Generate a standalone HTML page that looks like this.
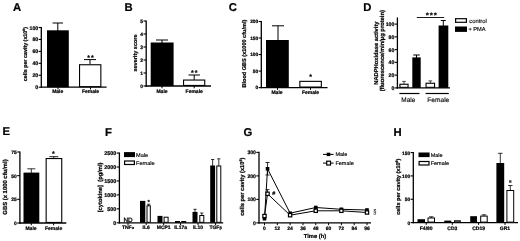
<!DOCTYPE html>
<html><head><meta charset="utf-8"><title>Figure</title>
<style>
html,body{margin:0;padding:0;background:#fff;}
svg{display:block;font-family:"Liberation Sans",sans-serif;text-rendering:geometricPrecision;}
</style></head><body>
<svg width="520" height="241" viewBox="0 0 520 241">
<defs><filter id="b" x="0" y="0" width="520" height="241" filterUnits="userSpaceOnUse"><feGaussianBlur stdDeviation="0.45"/></filter></defs>
<rect width="520" height="241" fill="#fff"/>
<g filter="url(#b)">
<text x="17.1" y="10.7" font-size="11.3" text-anchor="middle" font-weight="bold" stroke="#000" stroke-width="0.22">A</text>
<line x1="41.3" y1="26.95" x2="41.3" y2="87.85" stroke="#000" stroke-width="1.3"/>
<line x1="38.6" y1="87.2" x2="41.3" y2="87.2" stroke="#000" stroke-width="1.1"/>
<text x="38.2" y="89.21" font-size="5.2" text-anchor="end" font-weight="bold" stroke="#000" stroke-width="0.22">0</text>
<line x1="38.6" y1="75.26" x2="41.3" y2="75.26" stroke="#000" stroke-width="1.1"/>
<text x="38.2" y="77.27" font-size="5.2" text-anchor="end" font-weight="bold" stroke="#000" stroke-width="0.22">20</text>
<line x1="38.6" y1="63.32" x2="41.3" y2="63.32" stroke="#000" stroke-width="1.1"/>
<text x="38.2" y="65.33" font-size="5.2" text-anchor="end" font-weight="bold" stroke="#000" stroke-width="0.22">40</text>
<line x1="38.6" y1="51.38" x2="41.3" y2="51.38" stroke="#000" stroke-width="1.1"/>
<text x="38.2" y="53.39" font-size="5.2" text-anchor="end" font-weight="bold" stroke="#000" stroke-width="0.22">60</text>
<line x1="38.6" y1="39.44" x2="41.3" y2="39.44" stroke="#000" stroke-width="1.1"/>
<text x="38.2" y="41.45" font-size="5.2" text-anchor="end" font-weight="bold" stroke="#000" stroke-width="0.22">80</text>
<line x1="38.6" y1="27.5" x2="41.3" y2="27.5" stroke="#000" stroke-width="1.1"/>
<text x="38.2" y="29.51" font-size="5.2" text-anchor="end" font-weight="bold" stroke="#000" stroke-width="0.22">100</text>
<line x1="40.9" y1="87.2" x2="106.6" y2="87.2" stroke="#000" stroke-width="1.3"/>
<line x1="57.8" y1="23" x2="57.8" y2="31" stroke="#000" stroke-width="1.0"/>
<line x1="52.55" y1="23" x2="63.05" y2="23" stroke="#000" stroke-width="1.0"/>
<rect x="47" y="30.3" width="21.8" height="56.9" fill="#000"/>
<line x1="90" y1="59.6" x2="90" y2="64.5" stroke="#000" stroke-width="1.0"/>
<line x1="84.0" y1="59.6" x2="96.0" y2="59.6" stroke="#000" stroke-width="1.0"/>
<rect x="79.55" y="64.75" width="21.3" height="21.9" fill="#fff" stroke="#000" stroke-width="1.1"/>
<text x="91.1" y="60.19" font-size="7" text-anchor="middle" font-weight="bold" stroke="#000" stroke-width="0.15" letter-spacing="1.0">**</text>
<line x1="58" y1="87.2" x2="58" y2="89.5" stroke="#000" stroke-width="1.0"/>
<line x1="90.5" y1="87.2" x2="90.5" y2="89.5" stroke="#000" stroke-width="1.0"/>
<text x="57.7" y="93.0" font-size="5.0" text-anchor="middle" font-weight="bold" stroke="#000" stroke-width="0.22">Male</text>
<text x="90.5" y="93.0" font-size="5.0" text-anchor="middle" font-weight="bold" stroke="#000" stroke-width="0.22">Female</text>
<text x="26.9" y="54.1" font-size="5.35" text-anchor="middle" font-weight="bold" stroke="#000" stroke-width="0.22" transform="rotate(-90 26.9 54.1)">cells per cavity (x10<tspan font-size="3.42" dy="-1.77">6</tspan><tspan dy="1.77">)</tspan></text>
<text x="128.6" y="10.7" font-size="11.3" text-anchor="middle" font-weight="bold" stroke="#000" stroke-width="0.22">B</text>
<line x1="146.2" y1="20.45" x2="146.2" y2="86.65" stroke="#000" stroke-width="1.3"/>
<line x1="143.5" y1="86" x2="146.2" y2="86" stroke="#000" stroke-width="1.1"/>
<text x="143.1" y="87.9" font-size="4.9" text-anchor="end" font-weight="bold" stroke="#000" stroke-width="0.22">0</text>
<line x1="143.5" y1="73" x2="146.2" y2="73" stroke="#000" stroke-width="1.1"/>
<text x="143.1" y="74.9" font-size="4.9" text-anchor="end" font-weight="bold" stroke="#000" stroke-width="0.22">1</text>
<line x1="143.5" y1="60" x2="146.2" y2="60" stroke="#000" stroke-width="1.1"/>
<text x="143.1" y="61.9" font-size="4.9" text-anchor="end" font-weight="bold" stroke="#000" stroke-width="0.22">2</text>
<line x1="143.5" y1="47" x2="146.2" y2="47" stroke="#000" stroke-width="1.1"/>
<text x="143.1" y="48.9" font-size="4.9" text-anchor="end" font-weight="bold" stroke="#000" stroke-width="0.22">3</text>
<line x1="143.5" y1="34" x2="146.2" y2="34" stroke="#000" stroke-width="1.1"/>
<text x="143.1" y="35.9" font-size="4.9" text-anchor="end" font-weight="bold" stroke="#000" stroke-width="0.22">4</text>
<line x1="143.5" y1="21" x2="146.2" y2="21" stroke="#000" stroke-width="1.1"/>
<text x="143.1" y="22.9" font-size="4.9" text-anchor="end" font-weight="bold" stroke="#000" stroke-width="0.22">5</text>
<line x1="145.6" y1="86" x2="211" y2="86" stroke="#000" stroke-width="1.3"/>
<line x1="162" y1="40" x2="162" y2="43" stroke="#000" stroke-width="1.0"/>
<line x1="156.0" y1="40" x2="168.0" y2="40" stroke="#000" stroke-width="1.0"/>
<rect x="150.7" y="42.5" width="22.9" height="43.5" fill="#000"/>
<line x1="194.2" y1="75" x2="194.2" y2="80" stroke="#000" stroke-width="1.0"/>
<line x1="188.45" y1="75" x2="199.95" y2="75" stroke="#000" stroke-width="1.0"/>
<rect x="183.55" y="80.05" width="21.2" height="5.4" fill="#fff" stroke="#000" stroke-width="1.1"/>
<text x="194.7" y="75.29" font-size="7" text-anchor="middle" font-weight="bold" stroke="#000" stroke-width="0.15" letter-spacing="1.0">**</text>
<line x1="162" y1="86" x2="162" y2="88.3" stroke="#000" stroke-width="1.0"/>
<line x1="194.2" y1="86" x2="194.2" y2="88.3" stroke="#000" stroke-width="1.0"/>
<text x="162" y="92.6" font-size="5.0" text-anchor="middle" font-weight="bold" stroke="#000" stroke-width="0.22">Male</text>
<text x="194.2" y="92.6" font-size="5.0" text-anchor="middle" font-weight="bold" stroke="#000" stroke-width="0.22">Female</text>
<text x="137.3" y="53" font-size="5.5" text-anchor="middle" font-weight="bold" stroke="#000" stroke-width="0.22" transform="rotate(-90 137.3 53)">severity score</text>
<text x="232.8" y="10.7" font-size="11.3" text-anchor="middle" font-weight="bold" stroke="#000" stroke-width="0.22">C</text>
<line x1="261.3" y1="20.95" x2="261.3" y2="88.25" stroke="#000" stroke-width="1.3"/>
<line x1="258.6" y1="87.6" x2="261.3" y2="87.6" stroke="#000" stroke-width="1.1"/>
<text x="258.2" y="89.47" font-size="4.8" text-anchor="end" font-weight="bold" stroke="#000" stroke-width="0.22">0</text>
<line x1="258.6" y1="71.07" x2="261.3" y2="71.07" stroke="#000" stroke-width="1.1"/>
<text x="258.2" y="72.94" font-size="4.8" text-anchor="end" font-weight="bold" stroke="#000" stroke-width="0.22">50</text>
<line x1="258.6" y1="54.55" x2="261.3" y2="54.55" stroke="#000" stroke-width="1.1"/>
<text x="258.2" y="56.42" font-size="4.8" text-anchor="end" font-weight="bold" stroke="#000" stroke-width="0.22">100</text>
<line x1="258.6" y1="38.02" x2="261.3" y2="38.02" stroke="#000" stroke-width="1.1"/>
<text x="258.2" y="39.89" font-size="4.8" text-anchor="end" font-weight="bold" stroke="#000" stroke-width="0.22">150</text>
<line x1="258.6" y1="21.5" x2="261.3" y2="21.5" stroke="#000" stroke-width="1.1"/>
<text x="258.2" y="23.37" font-size="4.8" text-anchor="end" font-weight="bold" stroke="#000" stroke-width="0.22">200</text>
<line x1="260.7" y1="87.6" x2="327.5" y2="87.6" stroke="#000" stroke-width="1.3"/>
<line x1="278" y1="25.8" x2="278" y2="41" stroke="#000" stroke-width="1.0"/>
<line x1="272.0" y1="25.8" x2="284.0" y2="25.8" stroke="#000" stroke-width="1.0"/>
<rect x="266" y="40" width="22.8" height="47.6" fill="#000"/>
<rect x="299.85" y="81.35" width="21.5" height="5.7" fill="#fff" stroke="#000" stroke-width="1.1"/>
<text x="311.0" y="79.09" font-size="7" text-anchor="middle" font-weight="bold" stroke="#000" stroke-width="0.15" letter-spacing="1.0">*</text>
<line x1="277.5" y1="87.6" x2="277.5" y2="89.9" stroke="#000" stroke-width="1.0"/>
<line x1="310.5" y1="87.6" x2="310.5" y2="89.9" stroke="#000" stroke-width="1.0"/>
<text x="277.0" y="94.2" font-size="5.0" text-anchor="middle" font-weight="bold" stroke="#000" stroke-width="0.22">Male</text>
<text x="310.5" y="94.2" font-size="5.0" text-anchor="middle" font-weight="bold" stroke="#000" stroke-width="0.22">Female</text>
<text x="246.2" y="53.6" font-size="5.55" text-anchor="middle" font-weight="bold" stroke="#000" stroke-width="0.22" transform="rotate(-90 246.2 53.6)">Blood GBS (x1000 cfu/ml)</text>
<text x="367.4" y="10.7" font-size="11.3" text-anchor="middle" font-weight="bold" stroke="#000" stroke-width="0.22">D</text>
<line x1="397.4" y1="17.45" x2="397.4" y2="88.55" stroke="#000" stroke-width="1.3"/>
<line x1="394.7" y1="87.9" x2="397.4" y2="87.9" stroke="#000" stroke-width="1.1"/>
<text x="394.3" y="89.91" font-size="5.2" text-anchor="end" font-weight="bold" stroke="#000" stroke-width="0.22">0</text>
<line x1="394.7" y1="75.14" x2="397.4" y2="75.14" stroke="#000" stroke-width="1.1"/>
<text x="394.3" y="77.15" font-size="5.2" text-anchor="end" font-weight="bold" stroke="#000" stroke-width="0.22">20</text>
<line x1="394.7" y1="62.38" x2="397.4" y2="62.38" stroke="#000" stroke-width="1.1"/>
<text x="394.3" y="64.39" font-size="5.2" text-anchor="end" font-weight="bold" stroke="#000" stroke-width="0.22">40</text>
<line x1="394.7" y1="49.62" x2="397.4" y2="49.62" stroke="#000" stroke-width="1.1"/>
<text x="394.3" y="51.63" font-size="5.2" text-anchor="end" font-weight="bold" stroke="#000" stroke-width="0.22">60</text>
<line x1="394.7" y1="36.86" x2="397.4" y2="36.86" stroke="#000" stroke-width="1.1"/>
<text x="394.3" y="38.87" font-size="5.2" text-anchor="end" font-weight="bold" stroke="#000" stroke-width="0.22">80</text>
<line x1="394.7" y1="24.1" x2="397.4" y2="24.1" stroke="#000" stroke-width="1.1"/>
<text x="394.3" y="26.11" font-size="5.2" text-anchor="end" font-weight="bold" stroke="#000" stroke-width="0.22">100</text>
<line x1="396.8" y1="87.9" x2="450" y2="87.9" stroke="#000" stroke-width="1.3"/>
<line x1="404" y1="81.4" x2="404" y2="84" stroke="#000" stroke-width="0.7"/>
<line x1="402.2" y1="81.4" x2="405.8" y2="81.4" stroke="#000" stroke-width="0.7"/>
<rect x="399.95" y="84.25" width="8.1" height="3.1" fill="#fff" stroke="#000" stroke-width="1.1"/>
<line x1="416.5" y1="55" x2="416.5" y2="58" stroke="#000" stroke-width="1.0"/>
<line x1="413.25" y1="55" x2="419.75" y2="55" stroke="#000" stroke-width="1.0"/>
<rect x="412.3" y="57.4" width="8.4" height="30.5" fill="#000"/>
<line x1="430.3" y1="80.9" x2="430.3" y2="83" stroke="#000" stroke-width="0.7"/>
<line x1="428.5" y1="80.9" x2="432.1" y2="80.9" stroke="#000" stroke-width="0.7"/>
<rect x="426.05" y="83.25" width="8.5" height="4.1" fill="#fff" stroke="#000" stroke-width="1.1"/>
<line x1="443.3" y1="20.5" x2="443.3" y2="26" stroke="#000" stroke-width="1.0"/>
<line x1="440.8" y1="20.5" x2="445.8" y2="20.5" stroke="#000" stroke-width="1.0"/>
<rect x="438.6" y="25.5" width="9.7" height="62.4" fill="#000"/>
<line x1="416.8" y1="17.5" x2="444.2" y2="17.5" stroke="#000" stroke-width="0.9"/>
<text x="431.85" y="18.3" font-size="8" text-anchor="middle" font-weight="bold" stroke="#000" stroke-width="0.15" letter-spacing="0.9">***</text>
<line x1="399.4" y1="93.5" x2="419.5" y2="93.5" stroke="#000" stroke-width="1.2"/>
<line x1="425.6" y1="93.5" x2="448.8" y2="93.5" stroke="#000" stroke-width="1.2"/>
<text x="408.3" y="101.8" font-size="6.4" text-anchor="middle" stroke="#000" stroke-width="0.14">Male</text>
<text x="438.3" y="101.8" font-size="6.6" text-anchor="middle" stroke="#000" stroke-width="0.14">Female</text>
<rect x="455.6" y="18.7" width="10.8" height="3.6" fill="#fff" stroke="#000" stroke-width="1.2"/>
<rect x="455" y="26.5" width="12" height="5.4" fill="#000"/>
<text x="469.3" y="22.5" font-size="5.8" text-anchor="start" stroke="#000" stroke-width="0.14">control</text>
<text x="468.4" y="30.7" font-size="5.7" text-anchor="start" stroke="#000" stroke-width="0.14">+ PMA</text>
<text x="377.6" y="53.1" font-size="5.75" text-anchor="middle" font-weight="bold" stroke="#000" stroke-width="0.22" transform="rotate(-90 377.6 53.1)">NADPHoxidase activity</text>
<text x="384.5" y="50.7" font-size="5.8" text-anchor="middle" font-weight="bold" stroke="#000" stroke-width="0.22" transform="rotate(-90 384.5 50.7)">(fluorescence/min/µg protein)</text>
<text x="6.3" y="135.4" font-size="11.3" text-anchor="middle" font-weight="bold" stroke="#000" stroke-width="0.22">E</text>
<line x1="19.9" y1="151.45" x2="19.9" y2="223.65" stroke="#000" stroke-width="1.3"/>
<line x1="17.2" y1="223.0" x2="19.9" y2="223.0" stroke="#000" stroke-width="1.1"/>
<text x="16.8" y="224.9" font-size="4.9" text-anchor="end" font-weight="bold" stroke="#000" stroke-width="0.22">0</text>
<line x1="17.2" y1="199.32" x2="19.9" y2="199.32" stroke="#000" stroke-width="1.1"/>
<text x="16.8" y="201.23" font-size="4.9" text-anchor="end" font-weight="bold" stroke="#000" stroke-width="0.22">25</text>
<line x1="17.2" y1="175.65" x2="19.9" y2="175.65" stroke="#000" stroke-width="1.1"/>
<text x="16.8" y="177.55" font-size="4.9" text-anchor="end" font-weight="bold" stroke="#000" stroke-width="0.22">50</text>
<line x1="17.2" y1="151.98" x2="19.9" y2="151.98" stroke="#000" stroke-width="1.1"/>
<text x="16.8" y="153.88" font-size="4.9" text-anchor="end" font-weight="bold" stroke="#000" stroke-width="0.22">75</text>
<line x1="19.3" y1="223" x2="66.3" y2="223" stroke="#000" stroke-width="1.3"/>
<line x1="31.3" y1="168.8" x2="31.3" y2="173" stroke="#000" stroke-width="0.8"/>
<line x1="27.3" y1="168.8" x2="35.3" y2="168.8" stroke="#000" stroke-width="0.8"/>
<rect x="23.5" y="172.6" width="15.8" height="50.4" fill="#000"/>
<line x1="53.8" y1="156.7" x2="53.8" y2="158.5" stroke="#000" stroke-width="0.9"/>
<line x1="49.3" y1="156.7" x2="58.3" y2="156.7" stroke="#000" stroke-width="0.9"/>
<rect x="46.15" y="158.55" width="15.6" height="63.9" fill="#fff" stroke="#000" stroke-width="1.1"/>
<text x="53.8" y="155.79" font-size="7" text-anchor="middle" font-weight="bold" stroke="#000" stroke-width="0.15" letter-spacing="1.0">*</text>
<line x1="31.3" y1="223" x2="31.3" y2="225.3" stroke="#000" stroke-width="1.0"/>
<line x1="53.6" y1="223" x2="53.6" y2="225.3" stroke="#000" stroke-width="1.0"/>
<text x="31.0" y="230.1" font-size="5.0" text-anchor="middle" font-weight="bold" stroke="#000" stroke-width="0.22">Male</text>
<text x="53.6" y="230.1" font-size="5.0" text-anchor="middle" font-weight="bold" stroke="#000" stroke-width="0.22">Female</text>
<text x="7.0" y="187" font-size="5.9" text-anchor="middle" font-weight="bold" stroke="#000" stroke-width="0.22" transform="rotate(-90 7.0 187)">GBS (x 1000 cfu/ml)</text>
<text x="108.5" y="135.6" font-size="11.3" text-anchor="middle" font-weight="bold" stroke="#000" stroke-width="0.22">F</text>
<line x1="119.4" y1="152.5" x2="119.4" y2="223.45" stroke="#000" stroke-width="1.3"/>
<line x1="116.7" y1="222.8" x2="119.4" y2="222.8" stroke="#000" stroke-width="1.1"/>
<text x="116.3" y="224.88" font-size="5.4" text-anchor="end" font-weight="bold" stroke="#000" stroke-width="0.22">0</text>
<line x1="116.7" y1="208.85" x2="119.4" y2="208.85" stroke="#000" stroke-width="1.1"/>
<text x="116.3" y="210.93" font-size="5.4" text-anchor="end" font-weight="bold" stroke="#000" stroke-width="0.22">500</text>
<line x1="116.7" y1="194.9" x2="119.4" y2="194.9" stroke="#000" stroke-width="1.1"/>
<text x="116.3" y="196.98" font-size="5.4" text-anchor="end" font-weight="bold" stroke="#000" stroke-width="0.22">1000</text>
<line x1="116.7" y1="180.95" x2="119.4" y2="180.95" stroke="#000" stroke-width="1.1"/>
<text x="116.3" y="183.03" font-size="5.4" text-anchor="end" font-weight="bold" stroke="#000" stroke-width="0.22">1500</text>
<line x1="116.7" y1="167.0" x2="119.4" y2="167.0" stroke="#000" stroke-width="1.1"/>
<text x="116.3" y="169.08" font-size="5.4" text-anchor="end" font-weight="bold" stroke="#000" stroke-width="0.22">2000</text>
<line x1="116.7" y1="153.05" x2="119.4" y2="153.05" stroke="#000" stroke-width="1.1"/>
<text x="116.3" y="155.13" font-size="5.4" text-anchor="end" font-weight="bold" stroke="#000" stroke-width="0.22">2500</text>
<line x1="118.8" y1="222.8" x2="223.2" y2="222.8" stroke="#000" stroke-width="1.3"/>
<rect x="124" y="152.1" width="11" height="5.0" fill="#000"/>
<rect x="124.6" y="161.0" width="9.8" height="3.5" fill="#fff" stroke="#000" stroke-width="1.2"/>
<text x="136" y="156.5" font-size="5.6" text-anchor="start" stroke="#000" stroke-width="0.14">Male</text>
<text x="136" y="164.8" font-size="5.6" text-anchor="start" stroke="#000" stroke-width="0.14">Female</text>
<text x="128" y="222.4" font-size="6.3" text-anchor="middle" stroke="#000" stroke-width="0.3">ND</text>
<rect x="140.0" y="200.9" width="5.3" height="21.9" fill="#000"/>
<line x1="148.65" y1="204.2" x2="148.65" y2="206.3" stroke="#000" stroke-width="0.8"/>
<line x1="147.05" y1="204.2" x2="150.25" y2="204.2" stroke="#000" stroke-width="0.8"/>
<rect x="147.0" y="205.8" width="3.3" height="16.5" fill="#fff" stroke="#000" stroke-width="1.0"/>
<text x="149.1" y="203.58" font-size="6" text-anchor="middle" font-weight="bold" stroke="#000" stroke-width="0.15" letter-spacing="1.0">*</text>
<rect x="157.5" y="215.9" width="5.0" height="6.9" fill="#000"/>
<rect x="164.1" y="217.2" width="4.0" height="5.1" fill="#fff" stroke="#000" stroke-width="1.0"/>
<rect x="175" y="221.0" width="5" height="1.8" fill="#000"/>
<rect x="181.7" y="221.5" width="4.0" height="0.8" fill="#fff" stroke="#000" stroke-width="1.0"/>
<line x1="195.0" y1="209.3" x2="195.0" y2="212.9" stroke="#000" stroke-width="0.8"/>
<line x1="193.4" y1="209.3" x2="196.6" y2="209.3" stroke="#000" stroke-width="0.8"/>
<rect x="192.5" y="211.9" width="5.0" height="10.9" fill="#000"/>
<line x1="201.8" y1="213" x2="201.8" y2="216" stroke="#000" stroke-width="0.8"/>
<line x1="200.2" y1="213" x2="203.4" y2="213" stroke="#000" stroke-width="0.8"/>
<rect x="199.8" y="215.5" width="4.0" height="6.8" fill="#fff" stroke="#000" stroke-width="1.0"/>
<line x1="212.65" y1="159.5" x2="212.65" y2="166.5" stroke="#000" stroke-width="0.8"/>
<line x1="211.05" y1="159.5" x2="214.25" y2="159.5" stroke="#000" stroke-width="0.8"/>
<rect x="210.2" y="165.5" width="4.9" height="57.3" fill="#000"/>
<line x1="218.8" y1="158.8" x2="218.8" y2="166.5" stroke="#000" stroke-width="0.8"/>
<line x1="217.2" y1="158.8" x2="220.4" y2="158.8" stroke="#000" stroke-width="0.8"/>
<rect x="216.8" y="166.0" width="4.0" height="56.3" fill="#fff" stroke="#000" stroke-width="1.0"/>
<line x1="128" y1="222.8" x2="128" y2="225.1" stroke="#000" stroke-width="1.0"/>
<text x="128" y="229.2" font-size="5.0" text-anchor="middle" font-weight="bold" stroke="#000" stroke-width="0.22">TNF<tspan font-size="3.8">α</tspan></text>
<line x1="146.2" y1="222.8" x2="146.2" y2="225.1" stroke="#000" stroke-width="1.0"/>
<text x="146.2" y="229.2" font-size="5.0" text-anchor="middle" font-weight="bold" stroke="#000" stroke-width="0.22">IL6</text>
<line x1="163.7" y1="222.8" x2="163.7" y2="225.1" stroke="#000" stroke-width="1.0"/>
<text x="163.7" y="229.2" font-size="5.0" text-anchor="middle" font-weight="bold" stroke="#000" stroke-width="0.22">MCP1</text>
<line x1="180.6" y1="222.8" x2="180.6" y2="225.1" stroke="#000" stroke-width="1.0"/>
<text x="180.6" y="229.2" font-size="5.0" text-anchor="middle" font-weight="bold" stroke="#000" stroke-width="0.22">IL17a</text>
<line x1="198.0" y1="222.8" x2="198.0" y2="225.1" stroke="#000" stroke-width="1.0"/>
<text x="198.0" y="229.2" font-size="5.0" text-anchor="middle" font-weight="bold" stroke="#000" stroke-width="0.22">IL10</text>
<line x1="215.6" y1="222.8" x2="215.6" y2="225.1" stroke="#000" stroke-width="1.0"/>
<text x="215.6" y="229.2" font-size="5.0" text-anchor="middle" font-weight="bold" stroke="#000" stroke-width="0.22">TGF<tspan font-size="3.8">β</tspan></text>
<text x="102.3" y="187.4" font-size="5.8" text-anchor="middle" font-weight="bold" stroke="#000" stroke-width="0.22" transform="rotate(-90 102.3 187.4)">[cytokine]&#160;&#160;(pg/ml)</text>
<text x="247.8" y="135.7" font-size="11.3" text-anchor="middle" font-weight="bold" stroke="#000" stroke-width="0.22">G</text>
<line x1="259" y1="151.85" x2="259" y2="223.55" stroke="#000" stroke-width="1.3"/>
<line x1="256.3" y1="222.9" x2="259" y2="222.9" stroke="#000" stroke-width="1.1"/>
<text x="255.9" y="224.88" font-size="5.1" text-anchor="end" font-weight="bold" stroke="#000" stroke-width="0.22">0</text>
<line x1="256.3" y1="199.4" x2="259" y2="199.4" stroke="#000" stroke-width="1.1"/>
<text x="255.9" y="201.38" font-size="5.1" text-anchor="end" font-weight="bold" stroke="#000" stroke-width="0.22">100</text>
<line x1="256.3" y1="175.9" x2="259" y2="175.9" stroke="#000" stroke-width="1.1"/>
<text x="255.9" y="177.88" font-size="5.1" text-anchor="end" font-weight="bold" stroke="#000" stroke-width="0.22">200</text>
<line x1="256.3" y1="152.4" x2="259" y2="152.4" stroke="#000" stroke-width="1.1"/>
<text x="255.9" y="154.38" font-size="5.1" text-anchor="end" font-weight="bold" stroke="#000" stroke-width="0.22">300</text>
<line x1="258.4" y1="222.9" x2="371" y2="222.9" stroke="#000" stroke-width="1.3"/>
<line x1="264.5" y1="222.9" x2="264.5" y2="225.2" stroke="#000" stroke-width="1.0"/>
<text x="264.5" y="230.2" font-size="5.0" text-anchor="middle" font-weight="bold" stroke="#000" stroke-width="0.22">0</text>
<line x1="277.31" y1="222.9" x2="277.31" y2="225.2" stroke="#000" stroke-width="1.0"/>
<text x="277.31" y="230.2" font-size="5.0" text-anchor="middle" font-weight="bold" stroke="#000" stroke-width="0.22">12</text>
<line x1="290.12" y1="222.9" x2="290.12" y2="225.2" stroke="#000" stroke-width="1.0"/>
<text x="290.12" y="230.2" font-size="5.0" text-anchor="middle" font-weight="bold" stroke="#000" stroke-width="0.22">24</text>
<line x1="302.94" y1="222.9" x2="302.94" y2="225.2" stroke="#000" stroke-width="1.0"/>
<text x="302.94" y="230.2" font-size="5.0" text-anchor="middle" font-weight="bold" stroke="#000" stroke-width="0.22">36</text>
<line x1="315.75" y1="222.9" x2="315.75" y2="225.2" stroke="#000" stroke-width="1.0"/>
<text x="315.75" y="230.2" font-size="5.0" text-anchor="middle" font-weight="bold" stroke="#000" stroke-width="0.22">48</text>
<line x1="328.56" y1="222.9" x2="328.56" y2="225.2" stroke="#000" stroke-width="1.0"/>
<text x="328.56" y="230.2" font-size="5.0" text-anchor="middle" font-weight="bold" stroke="#000" stroke-width="0.22">60</text>
<line x1="341.37" y1="222.9" x2="341.37" y2="225.2" stroke="#000" stroke-width="1.0"/>
<text x="341.37" y="230.2" font-size="5.0" text-anchor="middle" font-weight="bold" stroke="#000" stroke-width="0.22">72</text>
<line x1="354.19" y1="222.9" x2="354.19" y2="225.2" stroke="#000" stroke-width="1.0"/>
<text x="354.19" y="230.2" font-size="5.0" text-anchor="middle" font-weight="bold" stroke="#000" stroke-width="0.22">84</text>
<line x1="367.0" y1="222.9" x2="367.0" y2="225.2" stroke="#000" stroke-width="1.0"/>
<text x="367.0" y="230.2" font-size="5.0" text-anchor="middle" font-weight="bold" stroke="#000" stroke-width="0.22">96</text>
<text x="315" y="238.4" font-size="5.75" text-anchor="middle" font-weight="bold" stroke="#000" stroke-width="0.22">Time (h)</text>
<line x1="267.54" y1="162.5" x2="267.54" y2="175" stroke="#000" stroke-width="0.8"/>
<line x1="265.44" y1="162.5" x2="269.64" y2="162.5" stroke="#000" stroke-width="0.8"/>
<line x1="265.44" y1="175" x2="269.64" y2="175" stroke="#000" stroke-width="0.8"/>
<line x1="267.54" y1="189.6" x2="267.54" y2="193" stroke="#000" stroke-width="0.8"/>
<line x1="265.74" y1="189.6" x2="269.34" y2="189.6" stroke="#000" stroke-width="0.8"/>
<polyline fill="none" stroke="#000" stroke-width="1.0" points="264.5,218.7 267.54,168.8 290.12,213.2 315.75,207.5 341.37,209.3 367.0,210"/>
<polyline fill="none" stroke="#000" stroke-width="1.0" points="264.5,216.0 267.54,193.8 290.12,215.2 315.75,210.8 341.37,210.8 367.0,212.5"/>
<rect x="262.7" y="216.9" width="3.6" height="3.6" fill="#000"/>
<rect x="265.74" y="167.0" width="3.6" height="3.6" fill="#000"/>
<rect x="288.32" y="211.4" width="3.6" height="3.6" fill="#000"/>
<rect x="313.95" y="205.7" width="3.6" height="3.6" fill="#000"/>
<rect x="339.57" y="207.5" width="3.6" height="3.6" fill="#000"/>
<rect x="365.2" y="208.2" width="3.6" height="3.6" fill="#000"/>
<rect x="262.85" y="214.35" width="3.3" height="3.3" fill="#fff" stroke="#000" stroke-width="1.2"/>
<rect x="265.89" y="192.15" width="3.3" height="3.3" fill="#fff" stroke="#000" stroke-width="1.2"/>
<rect x="288.47" y="213.55" width="3.3" height="3.3" fill="#fff" stroke="#000" stroke-width="1.2"/>
<rect x="314.1" y="209.15" width="3.3" height="3.3" fill="#fff" stroke="#000" stroke-width="1.2"/>
<rect x="339.72" y="209.15" width="3.3" height="3.3" fill="#fff" stroke="#000" stroke-width="1.2"/>
<rect x="365.35" y="210.85" width="3.3" height="3.3" fill="#fff" stroke="#000" stroke-width="1.2"/>
<text x="273.8" y="195" font-size="5.5" text-anchor="middle" font-weight="bold" stroke="#000" stroke-width="0.22">#</text>
<text x="374.8" y="214.2" font-size="7" text-anchor="middle" stroke="#000" stroke-width="0.05" textLength="3.2" lengthAdjust="spacingAndGlyphs">§</text>
<line x1="323" y1="154.4" x2="333.6" y2="154.4" stroke="#000" stroke-width="1.0"/>
<rect x="326.7" y="152.7" width="3.6" height="3.4" fill="#000"/>
<line x1="323" y1="163.1" x2="333.6" y2="163.1" stroke="#000" stroke-width="1.0"/>
<rect x="326.7" y="161.2" width="3.8" height="3.8" fill="#fff" stroke="#000" stroke-width="1.2"/>
<text x="335.4" y="156.3" font-size="5.5" text-anchor="start" stroke="#000" stroke-width="0.14">Male</text>
<text x="335.4" y="164.8" font-size="5.5" text-anchor="start" stroke="#000" stroke-width="0.14">Female</text>
<text x="244.3" y="186.7" font-size="5.75" text-anchor="middle" font-weight="bold" stroke="#000" stroke-width="0.22" transform="rotate(-90 244.3 186.7)">cells per cavity (x10<tspan font-size="3.68" dy="-1.9">6</tspan><tspan dy="1.9">)</tspan></text>
<text x="397.5" y="135.6" font-size="11.3" text-anchor="middle" font-weight="bold" stroke="#000" stroke-width="0.22">H</text>
<line x1="413.3" y1="152.04" x2="413.3" y2="223.25" stroke="#000" stroke-width="1.3"/>
<line x1="410.6" y1="222.6" x2="413.3" y2="222.6" stroke="#000" stroke-width="1.1"/>
<text x="410.2" y="224.5" font-size="4.9" text-anchor="end" font-weight="bold" stroke="#000" stroke-width="0.22">0</text>
<line x1="410.6" y1="199.26" x2="413.3" y2="199.26" stroke="#000" stroke-width="1.1"/>
<text x="410.2" y="201.17" font-size="4.9" text-anchor="end" font-weight="bold" stroke="#000" stroke-width="0.22">50</text>
<line x1="410.6" y1="175.93" x2="413.3" y2="175.93" stroke="#000" stroke-width="1.1"/>
<text x="410.2" y="177.83" font-size="4.9" text-anchor="end" font-weight="bold" stroke="#000" stroke-width="0.22">100</text>
<line x1="410.6" y1="152.59" x2="413.3" y2="152.59" stroke="#000" stroke-width="1.1"/>
<text x="410.2" y="154.5" font-size="4.9" text-anchor="end" font-weight="bold" stroke="#000" stroke-width="0.22">150</text>
<line x1="412.5" y1="222.6" x2="518" y2="222.6" stroke="#000" stroke-width="1.3"/>
<rect x="418.5" y="152.5" width="11.1" height="4.6" fill="#000"/>
<rect x="419.1" y="161.5" width="9.9" height="3.5" fill="#fff" stroke="#000" stroke-width="1.2"/>
<text x="430.7" y="156.6" font-size="5.5" text-anchor="start" stroke="#000" stroke-width="0.14">Male</text>
<text x="430.7" y="165.0" font-size="5.5" text-anchor="start" stroke="#000" stroke-width="0.14">Female</text>
<rect x="417.5" y="219.2" width="7.5" height="3.4" fill="#000"/>
<line x1="431.25" y1="216.8" x2="431.25" y2="218.5" stroke="#000" stroke-width="0.8"/>
<line x1="429.0" y1="216.8" x2="433.5" y2="216.8" stroke="#000" stroke-width="0.8"/>
<rect x="428.0" y="218.0" width="6.5" height="4.1" fill="#fff" stroke="#000" stroke-width="1.0"/>
<rect x="444.3" y="220.6" width="7.0" height="2.0" fill="#000"/>
<rect x="454.5" y="220.8" width="5.8" height="1.3" fill="#fff" stroke="#000" stroke-width="1.0"/>
<rect x="470.2" y="216.2" width="6.8" height="6.4" fill="#000"/>
<line x1="483.95" y1="214.8" x2="483.95" y2="216.6" stroke="#000" stroke-width="0.8"/>
<line x1="481.7" y1="214.8" x2="486.2" y2="214.8" stroke="#000" stroke-width="0.8"/>
<rect x="480.7" y="216.1" width="6.5" height="6.0" fill="#fff" stroke="#000" stroke-width="1.0"/>
<line x1="500.3" y1="153.3" x2="500.3" y2="164" stroke="#000" stroke-width="0.8"/>
<line x1="498.05" y1="153.3" x2="502.55" y2="153.3" stroke="#000" stroke-width="0.8"/>
<rect x="496.4" y="163" width="7.8" height="59.6" fill="#000"/>
<line x1="510.3" y1="185.5" x2="510.3" y2="191" stroke="#000" stroke-width="0.8"/>
<line x1="508.05" y1="185.5" x2="512.55" y2="185.5" stroke="#000" stroke-width="0.8"/>
<rect x="506.9" y="190.5" width="6.8" height="31.6" fill="#fff" stroke="#000" stroke-width="1.0"/>
<text x="510.2" y="182.8" font-size="4.5" text-anchor="middle" font-weight="bold" stroke="#000" stroke-width="0.22">¤</text>
<line x1="426.2" y1="222.6" x2="426.2" y2="224.9" stroke="#000" stroke-width="1.0"/>
<text x="426.2" y="229.5" font-size="5.0" text-anchor="middle" font-weight="bold" stroke="#000" stroke-width="0.22">F4/80</text>
<line x1="452.3" y1="222.6" x2="452.3" y2="224.9" stroke="#000" stroke-width="1.0"/>
<text x="452.3" y="229.5" font-size="5.0" text-anchor="middle" font-weight="bold" stroke="#000" stroke-width="0.22">CD3</text>
<line x1="478.6" y1="222.6" x2="478.6" y2="224.9" stroke="#000" stroke-width="1.0"/>
<text x="478.6" y="229.5" font-size="5.0" text-anchor="middle" font-weight="bold" stroke="#000" stroke-width="0.22">CD19</text>
<line x1="505" y1="222.6" x2="505" y2="224.9" stroke="#000" stroke-width="1.0"/>
<text x="505" y="229.5" font-size="5.0" text-anchor="middle" font-weight="bold" stroke="#000" stroke-width="0.22">GR1</text>
<text x="399.8" y="186.7" font-size="5.55" text-anchor="middle" font-weight="bold" stroke="#000" stroke-width="0.22" transform="rotate(-90 399.8 186.7)">cells per cavity (x10<tspan font-size="3.55" dy="-1.83">6</tspan><tspan dy="1.83">)</tspan></text>
</g>
</svg>
</body></html>
